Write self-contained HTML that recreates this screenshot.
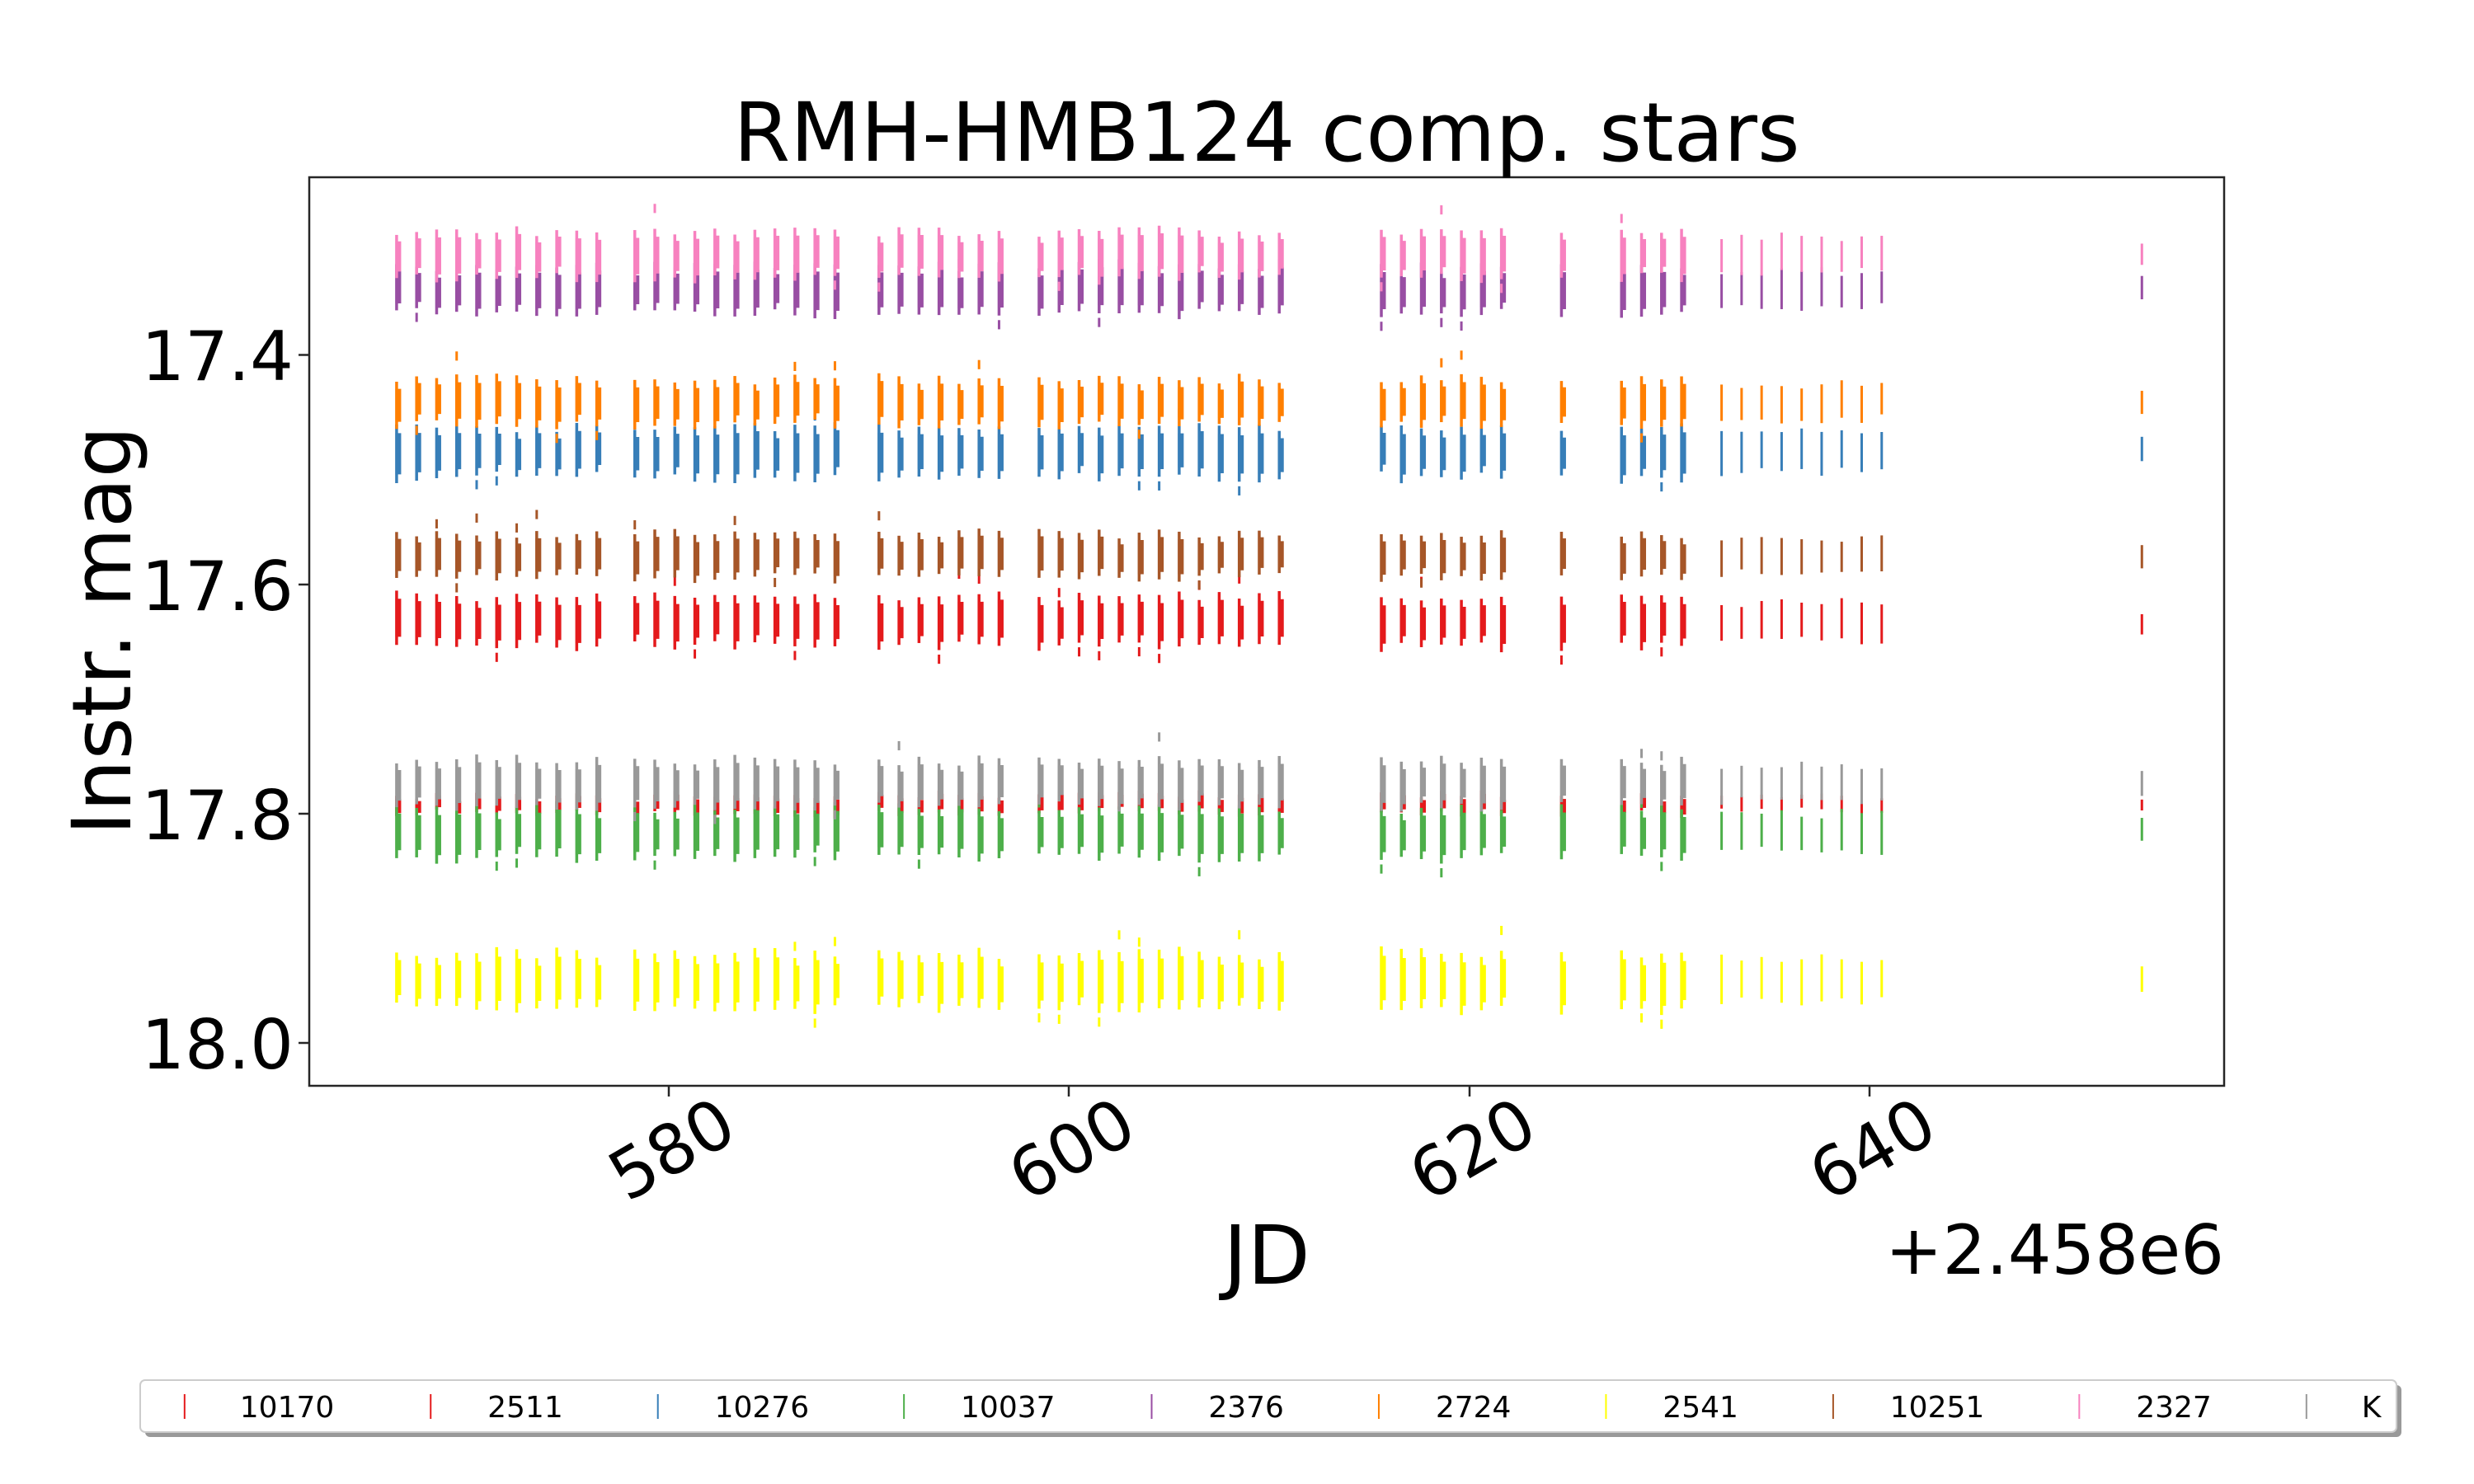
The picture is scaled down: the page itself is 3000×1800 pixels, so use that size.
<!DOCTYPE html>
<html><head><meta charset="utf-8"><style>
html,body{margin:0;padding:0;background:#fff;}
svg{display:block;font-family:"DejaVu Sans","Liberation Sans",sans-serif;}
</style></head><body>
<svg id="s" width="3000" height="1800" viewBox="0 0 3000 1800" xmlns="http://www.w3.org/2000/svg">
<rect width="3000" height="1800" fill="#fff"/>
<g id="data"></g>
<rect x="375" y="215" width="2322" height="1102" fill="none" stroke="#262626" stroke-width="2.5"/>
<g stroke="#262626" stroke-width="2.5">
<line x1="362" y1="430.5" x2="375" y2="430.5"/><line x1="362" y1="709" x2="375" y2="709"/>
<line x1="362" y1="987" x2="375" y2="987"/><line x1="362" y1="1265" x2="375" y2="1265"/>
<line x1="811" y1="1317" x2="811" y2="1330"/><line x1="1296" y1="1317" x2="1296" y2="1330"/>
<line x1="1782" y1="1317" x2="1782" y2="1330"/><line x1="2267" y1="1317" x2="2267" y2="1330"/>
</g>
<g font-size="83" text-anchor="end" fill="#000">
<text x="356" y="461">17.4</text><text x="356" y="740">17.6</text>
<text x="356" y="1018">17.8</text><text x="356" y="1296">18.0</text>
</g>
<g font-size="83" text-anchor="middle" fill="#000">
<text transform="translate(829,1419) rotate(-30)">580</text>
<text transform="translate(1314,1419) rotate(-30)">600</text>
<text transform="translate(1800,1419) rotate(-30)">620</text>
<text transform="translate(2285,1419) rotate(-30)">640</text>
</g>
<text x="1536" y="195" font-size="99" text-anchor="middle">RMH-HMB124 comp. stars</text>
<text x="1536" y="1557" font-size="99" text-anchor="middle">JD</text>
<text x="2697" y="1545" font-size="83" text-anchor="end">+2.458e6</text>
<text transform="translate(158,765) rotate(-90)" font-size="99" text-anchor="middle">Instr. mag</text>
<rect x="176" y="1680" width="2736" height="63" rx="6" fill="#999"/>
<rect x="170" y="1674" width="2736" height="63" rx="6" fill="#fff" stroke="#ccc" stroke-width="2"/>
<g id="leg" font-size="36"></g>
</svg>
<script>
var NS="http://www.w3.org/2000/svg";
function el(p,t,a){var e=document.createElementNS(NS,t);for(var k in a)e.setAttribute(k,a[k]);p.appendChild(e);return e;}
var seed=7;function r(){seed=(seed*16807)%2147483647;return seed/2147483647;}
function X(d){return 811+(d-580)*24.27;}
function Y(m){return 430.5+(m-17.4)*1392;}
var nights=[];
for(var i=0;i<11;i++)nights.push([566.4+i,1]);
for(var i=0;i<11;i++)nights.push([578.3+i,1]);
for(var i=0;i<7;i++)nights.push([590.5+i,1]);
for(var i=0;i<13;i++)nights.push([598.5+i,1]);
for(var i=0;i<7;i++)nights.push([615.6+i,0.85]);
nights.push([624.6,0.8]);
for(var i=0;i<4;i++)nights.push([627.6+i,0.8]);
for(var i=0;i<9;i++)nights.push([632.6+i,0.55]);
nights.push([653.6,0.35]);
var S=[
["10170","#e41a1c",17.611,17.653],
["2511","#e41a1c",17.783,17.800],
["10276","#377eb8",17.462,17.507],
["10037","#4daf4a",17.794,17.838],
["2376","#984ea3",17.322,17.364],
["2724","#ff7f00",17.421,17.461],
["2541","#ffff00",17.921,17.970],
["10251","#a65628",17.556,17.594],
["2327","#f781bf",17.292,17.333],
["K","#999999",17.753,17.794]];
var g=document.getElementById("data");
S.forEach(function(s){
 nights.forEach(function(n){
  var f=n[1],c=(s[2]+s[3])/2+(r()-0.5)*0.006,h=(s[3]-s[2])/2*(0.85+0.3*r())*(f<0.7?f*1.4:1);
  var top=c-h,bot=c+h;
  var x=X(n[0]);
  el(g,"line",{x1:x,x2:x,y1:Y(top),y2:Y(bot),stroke:s[1],"stroke-width":f<0.7?3:3.5});
  if(f>=0.7){
   el(g,"line",{x1:x+2,x2:x+2,y1:Y(top+(bot-top)*0.15),y2:Y(bot-(bot-top)*0.15),stroke:s[1],"stroke-width":7});
   if(r()<0.25){var o=(r()<0.5?top-0.01-r()*0.012:bot+0.004);el(g,"line",{x1:x,x2:x,y1:Y(o),y2:Y(o+0.008),stroke:s[1],"stroke-width":3});}
  }
 });
});
var hx=[117,273,417,573,730,874,1018,1162,1318,1462],lx=[152,309,453,609,766,910,1054,1198,1354,1497];
var L=document.getElementById("leg");
S.forEach(function(s,i){
 el(L,"line",{x1:hx[i]*1.913,x2:hx[i]*1.913,y1:1691,y2:1721,stroke:s[1],"stroke-width":2});
 var t=el(L,"text",{x:lx[i]*1.913,y:1719});t.textContent=s[0];
});
</script>
</body></html>
